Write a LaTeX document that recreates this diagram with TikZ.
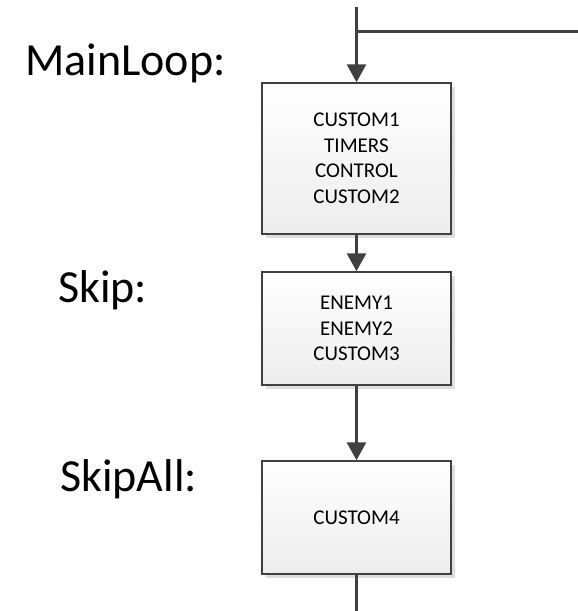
\documentclass[tikz,border=0pt]{standalone}
\usepackage{fontspec}
\setmainfont{Carlito}
\usetikzlibrary{arrows.meta,shadows}
\definecolor{linegray}{HTML}{404040}
\definecolor{shadowgray}{HTML}{DEDEDE}
\definecolor{fillbottom}{HTML}{EDEDED}
\tikzset{
  stepbox/.style={draw=linegray, line width=1.5pt, rectangle,
    top color=white, bottom color=fillbottom,
    minimum width=189pt, align=center, inner sep=0pt,
    font=\fontsize{21}{25.5}\selectfont,
    drop shadow={shadow xshift=4pt, shadow yshift=-4pt, fill=shadowgray, opacity=1}},
  flow/.style={draw=linegray, line width=3pt},
  flowarrow/.style={flow, -{Triangle[width=19pt,length=18pt]}},
  looplabel/.style={anchor=base west, inner sep=0pt, font=\fontsize{46}{55}\selectfont}
}
\begin{document}
\begin{tikzpicture}[x=1pt,y=-1pt]
  \useasboundingbox (0,0) rectangle (578,611);
  % routine blocks
  \node[stepbox, minimum height=151pt] (main) at (356.5,158.5)
    {CUSTOM1\\TIMERS\\CONTROL\\CUSTOM2};
  \node[stepbox, minimum height=113pt] (skip) at (356.5,328.5)
    {ENEMY1\\ENEMY2\\CUSTOM3};
  \node[stepbox, minimum height=113pt] (skipall) at (356.5,517.5)
    {CUSTOM4};
  % entry labels
  \node[looplabel] (lmain) at (25,75) {MainLoop:};
  \node[looplabel] (lskip) at (58,302) {Skip:};
  \node[looplabel] (lskipall) at (60,491) {SkipAll:};
  % loop entry and back edge
  \coordinate (entry) at (356.5,7);
  \coordinate (join) at (356.5,31);
  \coordinate (back) at (578,31);
  \coordinate (exit) at (356.5,611);
  \draw[flowarrow] (entry) -- (main.north);
  \draw[flow] (join) -- (back);
  \draw[flowarrow] (main.south) -- (skip.north);
  \draw[flowarrow] (skip.south) -- (skipall.north);
  \draw[flow] (skipall.south) -- (exit);
\end{tikzpicture}
\end{document}
